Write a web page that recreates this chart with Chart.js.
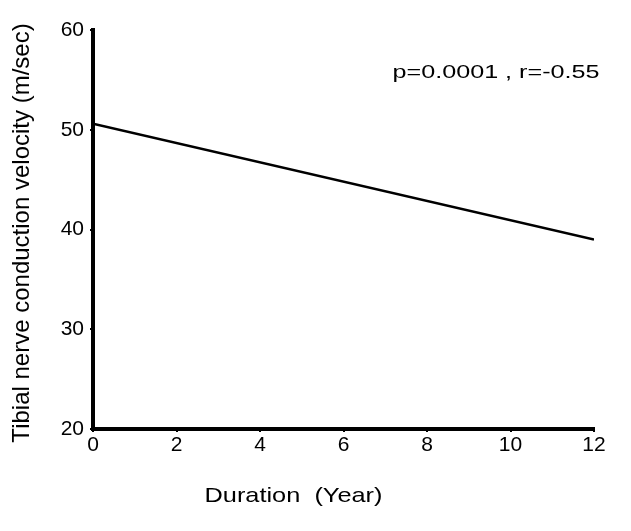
<!DOCTYPE html>
<html>
<head>
<meta charset="utf-8">
<script src="https://cdn.jsdelivr.net/npm/chart.js@4/dist/chart.umd.min.js"></script>
<style>
html,body{margin:0;padding:0;background:#fff;}
#wrap{width:631px;height:531px;position:relative;}
</style>
</head>
<body>
<div id="wrap"><canvas id="c" width="631" height="531"></canvas></div>
<script>
const durationYears = [0, 12];
const velocityFit = [50.6, 39.0];
const xTicks = [0, 2, 4, 6, 8, 10, 12];
const yTicks = [20, 30, 40, 50, 60];
const xTitle = "Duration  (Year)";
const yTitle = "Tibial nerve conduction velocity (m/sec)";
const statsText = "p=0.0001 , r=-0.55";

const FONT = "'Liberation Sans', Arial, Helvetica, sans-serif";

function stretchedText(ctx, text, cx, cy, size, targetW) {
  ctx.save();
  ctx.font = size + 'px ' + FONT;
  const w = ctx.measureText(text).width;
  const sx = targetW / w;
  ctx.translate(cx, cy);
  ctx.scale(sx, 1);
  ctx.textAlign = 'center';
  ctx.textBaseline = 'middle';
  ctx.fillText(text, 0, 0);
  ctx.restore();
}

const textPlugin = {
  id: 'texts',
  afterDraw(chart) {
    const ctx = chart.ctx;
    const a = chart.chartArea;
    ctx.save();
    ctx.fillStyle = '#000';
    // stats annotation
    stretchedText(ctx, statsText, a.right - 98, 73, 19, 207);
    // x title
    stretchedText(ctx, xTitle, (a.left + a.right) / 2 - 50, 496, 21, 178);
    // y title
    ctx.font = '24px ' + FONT;
    ctx.textAlign = 'center';
    ctx.textBaseline = 'middle';
    ctx.translate(22, 233);
    ctx.rotate(-Math.PI / 2);
    ctx.fillText(yTitle, 0, 0);
    ctx.restore();
  }
};

new Chart(document.getElementById('c'), {
  type: 'scatter',
  data: {
    datasets: [{
      data: durationYears.map((x, i) => ({x: x, y: velocityFit[i]})),
      showLine: true,
      borderColor: '#000',
      borderWidth: 2.5,
      pointRadius: 0,
      fill: false
    }]
  },
  options: {
    responsive: false,
    animation: false,
    layout: {padding: {left: 0, top: 30, right: 37, bottom: 0}},
    plugins: {legend: {display: false}, tooltip: {enabled: false}},
    scales: {
      x: {
        type: 'linear',
        min: 0, max: 12,
        afterBuildTicks(s) { s.ticks = xTicks.map(v => ({value: v})); },
        afterFit(s) { s.height = 102; },
        grid: {display: true, drawOnChartArea: false, drawTicks: true, tickLength: 3, color: '#000', lineWidth: 2},
        border: {display: true, color: '#000', width: 4},
        ticks: {color: '#000', font: {family: FONT, size: 21}, padding: 1, maxRotation: 0}
      },
      y: {
        type: 'linear',
        min: 20, max: 60,
        afterBuildTicks(s) { s.ticks = yTicks.map(v => ({value: v})); },
        afterFit(s) { s.width = 93; },
        grid: {display: true, drawOnChartArea: false, drawTicks: true, tickLength: 3, color: '#000', lineWidth: 2},
        border: {display: true, color: '#000', width: 4},
        ticks: {color: '#000', font: {family: FONT, size: 21}, padding: 6}
      }
    }
  },
  plugins: [textPlugin]
});
</script>
</body>
</html>
